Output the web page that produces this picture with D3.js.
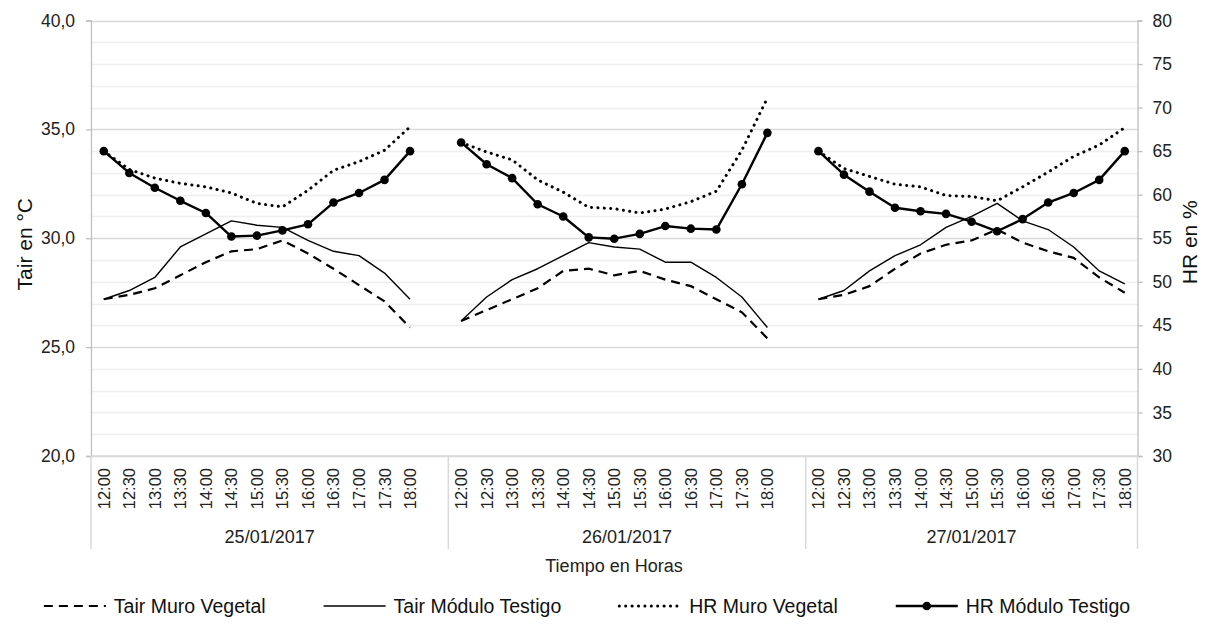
<!DOCTYPE html>
<html>
<head>
<meta charset="utf-8">
<script src="https://cdn.jsdelivr.net/npm/d3@7/dist/d3.min.js"></script>
<style>
  html, body { margin: 0; padding: 0; background: #fff; }
  svg { display: block; font-family: "Liberation Sans", Arial, sans-serif; }
</style>
</head>
<body>
<svg id="chart" width="1209" height="633"></svg>
<script>
// ---------- DATA ----------
const days = ["25/01/2017", "26/01/2017", "27/01/2017"];
const hours = ["12:00","12:30","13:00","13:30","14:00","14:30","15:00","15:30","16:00","16:30","17:00","17:30","18:00"];

// Tair (°C), left axis — one row of 13 values per day
const tairMuroVegetal = [
  [27.2, 27.4, 27.7, 28.3, 28.9, 29.4, 29.5, 29.9, 29.3, 28.6, 27.85, 27.1, 25.9],
  [26.2, 26.7, 27.2, 27.7, 28.5, 28.6, 28.3, 28.5, 28.1, 27.8, 27.2, 26.6, 25.4],
  [27.2, 27.4, 27.8, 28.6, 29.3, 29.7, 29.9, 30.4, 29.8, 29.4, 29.1, 28.2, 27.5]
];
const tairModuloTestigo = [
  [27.2, 27.6, 28.2, 29.6, 30.2, 30.8, 30.6, 30.5, 29.9, 29.4, 29.2, 28.4, 27.2],
  [26.2, 27.3, 28.1, 28.6, 29.2, 29.8, 29.6, 29.5, 28.9, 28.9, 28.2, 27.3, 25.9],
  [27.2, 27.6, 28.5, 29.2, 29.7, 30.5, 31.0, 31.6, 30.8, 30.4, 29.6, 28.5, 27.9]
];
// HR (%), right axis
const hrMuroVegetal = [
  [65.0, 62.9, 61.9, 61.3, 60.9, 60.2, 59.0, 58.6, 60.5, 62.8, 63.8, 65.1, 67.8],
  [66.0, 64.9, 64.0, 61.7, 60.3, 58.55, 58.4, 57.9, 58.35, 59.2, 60.4, 65.1, 71.1],
  [65.0, 63.0, 62.1, 61.2, 60.9, 59.9, 59.8, 59.3, 60.9, 62.6, 64.4, 65.7, 67.7]
];
const hrModuloTestigo = [
  [65.0, 62.5, 60.8, 59.3, 57.9, 55.2, 55.3, 55.9, 56.6, 59.1, 60.2, 61.7, 65.0],
  [66.0, 63.5, 61.9, 58.9, 57.5, 55.1, 54.95, 55.5, 56.4, 56.1, 56.0, 61.2, 67.1],
  [65.0, 62.3, 60.35, 58.5, 58.1, 57.8, 56.9, 55.8, 57.2, 59.1, 60.2, 61.7, 65.0]
];

const leftTicks = [20, 25, 30, 35, 40];
const rightTicks = [30, 35, 40, 45, 50, 55, 60, 65, 70, 75, 80];
const seriesNames = ["Tair Muro Vegetal", "Tair Módulo Testigo", "HR Muro Vegetal", "HR Módulo Testigo"];

// ---------- LAYOUT ----------
const svg = d3.select("#chart");
const L = 91, R = 1137.5, T = 20.5, B = 456;
const gridMinor = "#efefef", gridMajor = "#d9d9d9", axisCol = "#bfbfbf";
const font = '"Liberation Sans", Arial, sans-serif';

// category keys: 13 hours per day + an empty slot between days
const keys = [];
days.forEach((d, di) => {
  hours.forEach(h => keys.push(d + "|" + h));
  if (di < days.length - 1) keys.push(d + "|gap");
});
const x = d3.scaleBand().domain(keys).range([L, R]).padding(0);
const xc = k => x(k) + x.bandwidth() / 2;
const yL = d3.scaleLinear().domain([20, 40]).range([B, T]);
const yR = d3.scaleLinear().domain([30, 80]).range([B, T]);

// ---------- GRID ----------
const gridVals = d3.range(20, 40.001, 1);
svg.append("g").selectAll("line").data(gridVals).join("line")
  .attr("x1", L).attr("x2", R)
  .attr("y1", d => Math.round(yL(d)) + 0.5).attr("y2", d => Math.round(yL(d)) + 0.5)
  .attr("stroke", d => (d % 5 === 0 ? gridMajor : gridMinor))
  .attr("stroke-width", 1.3);

// ---------- AXES ----------
const leftAxis = d3.axisLeft(yL).tickValues(leftTicks).tickSize(5).tickPadding(11)
  .tickFormat(d => d3.format(".1f")(d).replace(".", ","));
const gl = svg.append("g").attr("transform", `translate(${L},0)`).call(leftAxis);
gl.select(".domain").attr("stroke", axisCol).attr("stroke-width", 1.3);
gl.selectAll(".tick line").attr("stroke", axisCol).attr("stroke-width", 1.3);
gl.selectAll(".tick text").attr("font-family", font).attr("font-size", 17.5).attr("fill", "#222");

const rightAxis = d3.axisRight(yR).tickValues(rightTicks).tickSize(5).tickPadding(10)
  .tickFormat(d3.format("d"));
const gr = svg.append("g").attr("transform", `translate(${R},0)`).call(rightAxis);
gr.select(".domain").attr("stroke", axisCol).attr("stroke-width", 1.3);
gr.selectAll(".tick line").attr("stroke", axisCol).attr("stroke-width", 1.3);
gr.selectAll(".tick text").attr("font-family", font).attr("font-size", 17.5).attr("fill", "#222");

// bottom axis line
svg.append("line").attr("x1", L).attr("x2", R).attr("y1", B).attr("y2", B)
  .attr("stroke", gridMajor).attr("stroke-width", 1.5);

// x tick labels (rotated)
const xTicks = keys.filter(k => !k.endsWith("|gap"));
svg.append("g").selectAll("text").data(xTicks).join("text")
  .attr("transform", k => `translate(${xc(k) + 6},${B + 12}) rotate(-90)`)
  .attr("text-anchor", "end")
  .attr("font-family", font).attr("font-size", 16.5).attr("fill", "#222")
  .text(k => k.split("|")[1]);

// day group separators (outer edges and the start of each later day)
const groupStarts = days.map(d => x(d + "|" + hours[0]));
const sepX = [L, ...groupStarts.slice(1), R];
svg.append("g").selectAll("line").data(sepX).join("line")
  .attr("x1", d => d).attr("x2", d => d).attr("y1", B).attr("y2", 549)
  .attr("stroke", gridMajor).attr("stroke-width", 1.5);

// day labels
svg.append("g").selectAll("text").data(days).join("text")
  .attr("x", (d, i) => (sepX[i] + sepX[i + 1]) / 2)
  .attr("y", 543)
  .attr("text-anchor", "middle")
  .attr("font-family", font).attr("font-size", 18).attr("fill", "#222")
  .text(d => d);

// axis titles
svg.append("text").attr("x", 614).attr("y", 572).attr("text-anchor", "middle")
  .attr("font-family", font).attr("font-size", 18).attr("fill", "#222").text("Tiempo en Horas");
svg.append("text").attr("transform", `translate(32,${(T + B) / 2 + 6}) rotate(-90)`)
  .attr("text-anchor", "middle").attr("font-family", font).attr("font-size", 21).attr("fill", "#111")
  .text("Tair en °C");
svg.append("text").attr("transform", `translate(1197,${(T + B) / 2 + 4}) rotate(-90)`)
  .attr("text-anchor", "middle").attr("font-family", font).attr("font-size", 21).attr("fill", "#111")
  .text("HR en %");

// ---------- SERIES ----------
function pts(arr) {
  const out = [];
  days.forEach((d, di) => {
    hours.forEach((h, hi) => out.push({ k: d + "|" + h, v: arr[di][hi] }));
    if (di < days.length - 1) out.push({ k: d + "|gap", v: null });
  });
  return out;
}
const lineL = d3.line().defined(p => p.v != null).x(p => xc(p.k)).y(p => yL(p.v));
const lineR = d3.line().defined(p => p.v != null).x(p => xc(p.k)).y(p => yR(p.v));

const styles = [
  { dash: "9,6", w: 2.2, cap: "butt" },
  { dash: null, w: 1.4, cap: "butt" },
  { dash: "0.1,6.3", w: 3, cap: "round" },
  { dash: null, w: 2.4, cap: "butt" }
];

svg.append("path").attr("d", lineL(pts(tairMuroVegetal))).attr("fill", "none").attr("stroke", "#000")
  .attr("stroke-width", styles[0].w).attr("stroke-dasharray", styles[0].dash);
svg.append("path").attr("d", lineL(pts(tairModuloTestigo))).attr("fill", "none").attr("stroke", "#000")
  .attr("stroke-width", styles[1].w).attr("stroke-linejoin", "round");
svg.append("path").attr("d", lineR(pts(hrMuroVegetal))).attr("fill", "none").attr("stroke", "#000")
  .attr("stroke-width", styles[2].w).attr("stroke-dasharray", styles[2].dash).attr("stroke-linecap", "round");
svg.append("path").attr("d", lineR(pts(hrModuloTestigo))).attr("fill", "none").attr("stroke", "#000")
  .attr("stroke-width", styles[3].w).attr("stroke-linejoin", "round");
svg.append("g").selectAll("circle").data(pts(hrModuloTestigo).filter(p => p.v != null)).join("circle")
  .attr("cx", p => xc(p.k)).attr("cy", p => yR(p.v)).attr("r", 4.3).attr("fill", "#000");

// ---------- LEGEND ----------
const legendY = 606, keyLen = 62, keyGap = 8, itemGap = 58, legendCenter = 587;
const lg = svg.append("g");
const items = seriesNames.map((name, i) => {
  const g = lg.append("g");
  const t = g.append("text").attr("x", keyLen + keyGap).attr("y", legendY).attr("dy", "0.35em")
    .attr("font-family", font).attr("font-size", 19.5).attr("fill", "#111").text(name);
  const s = styles[i];
  g.append("line").attr("x1", 0).attr("x2", keyLen).attr("y1", legendY).attr("y2", legendY)
    .attr("stroke", "#000").attr("stroke-width", s.w)
    .attr("stroke-dasharray", s.dash).attr("stroke-linecap", s.cap);
  if (i === 3) g.append("circle").attr("cx", keyLen / 2).attr("cy", legendY).attr("r", 4.3).attr("fill", "#000");
  return { g, w: keyLen + keyGap + t.node().getComputedTextLength() };
});
const totalW = d3.sum(items, d => d.w) + itemGap * (items.length - 1);
let cx = legendCenter - totalW / 2;
items.forEach(it => { it.g.attr("transform", `translate(${cx},0)`); cx += it.w + itemGap; });
</script>
</body>
</html>
